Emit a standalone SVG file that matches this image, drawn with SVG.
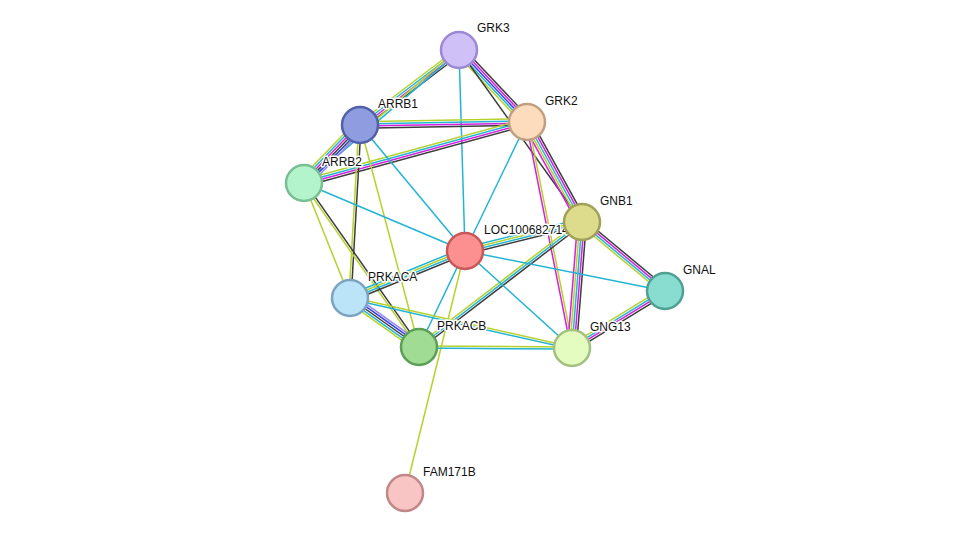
<svg xmlns="http://www.w3.org/2000/svg" width="976" height="539" viewBox="0 0 976 539">
<style>
line{stroke-width:1.5;fill:none}
.c{stroke:#22b4d4}.m{stroke:#d41fe0}.g{stroke:#b6d12c}.k{stroke:#3c3c3c}.b{stroke:#3a3af0}.p{stroke:#8f86f0}
circle{stroke-width:2.5}
text{font-family:"Liberation Sans",Arial,sans-serif;font-size:12px;fill:#111;stroke:#fff;stroke-width:3;paint-order:stroke;stroke-linejoin:round}
</style>
<rect width="976" height="539" fill="#fff"/>
<g id="edges">
<!-- GRK3-GRK2 -->
<line class="k" x1="459" y1="50" x2="527" y2="122" transform="translate(3.2,-3.02)"/>
<line class="m" x1="459" y1="50" x2="527" y2="122" transform="translate(1.6,-1.51)"/>
<line class="b" x1="459" y1="50" x2="527" y2="122"/>
<line class="c" x1="459" y1="50" x2="527" y2="122" transform="translate(-1.6,1.51)"/>
<line class="g" x1="459" y1="50" x2="527" y2="122" transform="translate(-3.2,3.02)"/>
<!-- GRK3-ARRB1 -->
<line class="k" x1="459" y1="50" x2="360" y2="125" transform="translate(2.66,3.52)"/>
<line class="m" x1="459" y1="50" x2="360" y2="125" transform="translate(1.33,1.76)"/>
<line class="c" x1="459" y1="50" x2="360" y2="125"/>
<line class="g" x1="459" y1="50" x2="360" y2="125" transform="translate(-1.33,-1.76)"/>
<!-- GRK3-ARRB2 -->
<line class="c" x1="459" y1="50" x2="304" y2="183" transform="translate(0.72,0.84)"/>
<line class="g" x1="459" y1="50" x2="304" y2="183" transform="translate(-0.72,-0.84)"/>
<line class="c" x1="459" y1="50" x2="465" y2="251"/>
<line class="k" x1="459" y1="50" x2="582" y2="222"/>
<!-- ARRB1-GRK2 -->
<line class="g" x1="360" y1="125" x2="527" y2="122" transform="translate(-0.06,-3.3)"/>
<line class="c" x1="360" y1="125" x2="527" y2="122" transform="translate(-0.02,-1.1)"/>
<line class="m" x1="360" y1="125" x2="527" y2="122" transform="translate(0.02,1.1)"/>
<line class="k" x1="360" y1="125" x2="527" y2="122" transform="translate(0.06,3.3)"/>
<!-- ARRB2-GRK2 -->
<line class="g" x1="304" y1="183" x2="527" y2="122" transform="translate(-0.87,-3.18)"/>
<line class="c" x1="304" y1="183" x2="527" y2="122" transform="translate(-0.29,-1.06)"/>
<line class="m" x1="304" y1="183" x2="527" y2="122" transform="translate(0.29,1.06)"/>
<line class="k" x1="304" y1="183" x2="527" y2="122" transform="translate(0.87,3.18)"/>
<!-- ARRB1-ARRB2 -->
<line class="p" x1="360" y1="125" x2="304" y2="183" transform="translate(3.95,3.8)"/>
<line class="b" x1="360" y1="125" x2="304" y2="183" transform="translate(2.37,2.28)"/>
<line class="k" x1="360" y1="125" x2="304" y2="183" transform="translate(0.79,0.76)"/>
<line class="m" x1="360" y1="125" x2="304" y2="183" transform="translate(-0.79,-0.76)"/>
<line class="c" x1="360" y1="125" x2="304" y2="183" transform="translate(-2.37,-2.28)"/>
<line class="g" x1="360" y1="125" x2="304" y2="183" transform="translate(-3.95,-3.8)"/>
<line class="c" x1="360" y1="125" x2="465" y2="251"/>
<line class="k" x1="360" y1="125" x2="350" y2="298" transform="translate(1.1,0.06)"/>
<line class="g" x1="360" y1="125" x2="350" y2="298" transform="translate(-1.1,-0.06)"/>
<line class="g" x1="360" y1="125" x2="419" y2="347"/>
<line class="c" x1="304" y1="183" x2="465" y2="251"/>
<line class="k" x1="304" y1="183" x2="419" y2="347" transform="translate(0.9,-0.63)"/>
<line class="g" x1="304" y1="183" x2="419" y2="347" transform="translate(-0.9,0.63)"/>
<line class="g" x1="304" y1="183" x2="350" y2="298"/>
<!-- GRK2-GNB1 -->
<line class="k" x1="527" y1="122" x2="582" y2="222" transform="translate(3.86,-2.12)"/>
<line class="m" x1="527" y1="122" x2="582" y2="222" transform="translate(1.93,-1.06)"/>
<line class="c" x1="527" y1="122" x2="582" y2="222"/>
<line class="g" x1="527" y1="122" x2="582" y2="222" transform="translate(-1.93,1.06)"/>
<line class="m" x1="527" y1="122" x2="582" y2="222" transform="translate(-3.86,2.12)"/>
<line class="g" x1="527" y1="122" x2="572" y2="348" transform="translate(1.08,-0.22)"/>
<line class="m" x1="527" y1="122" x2="572" y2="348" transform="translate(-1.08,0.22)"/>
<line class="c" x1="527" y1="122" x2="465" y2="251"/>
<!-- LOC-GNB1 -->
<line class="k" x1="465" y1="251" x2="582" y2="222" transform="translate(0.8,3.21)"/>
<line class="c" x1="465" y1="251" x2="582" y2="222" transform="translate(0.27,1.07)"/>
<line class="g" x1="465" y1="251" x2="582" y2="222" transform="translate(-0.27,-1.07)"/>
<line class="c" x1="465" y1="251" x2="582" y2="222" transform="translate(-0.8,-3.21)"/>
<!-- GNB1-GNAL -->
<line class="k" x1="582" y1="222" x2="665" y2="291" transform="translate(2.12,-2.54)"/>
<line class="m" x1="582" y1="222" x2="665" y2="291" transform="translate(0.71,-0.85)"/>
<line class="c" x1="582" y1="222" x2="665" y2="291" transform="translate(-0.71,0.85)"/>
<line class="g" x1="582" y1="222" x2="665" y2="291" transform="translate(-2.12,2.54)"/>
<!-- GNB1-GNG13 -->
<line class="k" x1="582" y1="222" x2="572" y2="348" transform="translate(4.38,0.34)"/>
<line class="m" x1="582" y1="222" x2="572" y2="348" transform="translate(2.19,0.17)"/>
<line class="c" x1="582" y1="222" x2="572" y2="348"/>
<line class="g" x1="582" y1="222" x2="572" y2="348" transform="translate(-2.19,-0.17)"/>
<line class="m" x1="582" y1="222" x2="572" y2="348" transform="translate(-4.38,-0.34)"/>
<!-- PRKACB-GNB1 -->
<line class="k" x1="419" y1="347" x2="582" y2="222" transform="translate(1.34,1.75)"/>
<line class="c" x1="419" y1="347" x2="582" y2="222"/>
<line class="g" x1="419" y1="347" x2="582" y2="222" transform="translate(-1.34,-1.75)"/>
<!-- PRKACA-LOC -->
<line class="k" x1="350" y1="298" x2="465" y2="251" transform="translate(1.25,3.06)"/>
<line class="c" x1="350" y1="298" x2="465" y2="251" transform="translate(0.42,1.02)"/>
<line class="g" x1="350" y1="298" x2="465" y2="251" transform="translate(-0.42,-1.02)"/>
<line class="c" x1="350" y1="298" x2="465" y2="251" transform="translate(-1.25,-3.06)"/>
<line class="c" x1="465" y1="251" x2="419" y2="347"/>
<line class="c" x1="465" y1="251" x2="665" y2="291"/>
<line class="c" x1="465" y1="251" x2="572" y2="348"/>
<line class="g" x1="465" y1="251" x2="405" y2="493"/>
<!-- PRKACA-PRKACB -->
<line class="p" x1="350" y1="298" x2="419" y2="347" transform="translate(2.54,-3.58)"/>
<line class="b" x1="350" y1="298" x2="419" y2="347" transform="translate(1.27,-1.79)"/>
<line class="k" x1="350" y1="298" x2="419" y2="347"/>
<line class="c" x1="350" y1="298" x2="419" y2="347" transform="translate(-1.27,1.79)"/>
<line class="g" x1="350" y1="298" x2="419" y2="347" transform="translate(-2.54,3.58)"/>
<line class="g" x1="350" y1="298" x2="572" y2="348" transform="translate(0.24,-1.07)"/>
<line class="c" x1="350" y1="298" x2="572" y2="348" transform="translate(-0.24,1.07)"/>
<line class="g" x1="419" y1="347" x2="572" y2="348" transform="translate(0,-1.1)"/>
<line class="c" x1="419" y1="347" x2="572" y2="348" transform="translate(0,1.1)"/>
<!-- GNAL-GNG13 -->
<line class="k" x1="665" y1="291" x2="572" y2="348" transform="translate(1.73,2.82)"/>
<line class="m" x1="665" y1="291" x2="572" y2="348" transform="translate(0.58,0.94)"/>
<line class="c" x1="665" y1="291" x2="572" y2="348" transform="translate(-0.58,-0.94)"/>
<line class="g" x1="665" y1="291" x2="572" y2="348" transform="translate(-1.73,-2.82)"/>
</g>
<g id="FAM171B"><circle cx="405" cy="493" r="18" fill="#f8c4c4" stroke="#c08888"/><text x="423" y="476">FAM171B</text></g>
<g id="LOC100682714"><circle cx="465" cy="251" r="18" fill="#fc9090" stroke="#c85858"/><text x="484" y="234">LOC100682714</text></g>
<g id="GRK3"><circle cx="459" cy="50" r="18" fill="#cfc0f8" stroke="#9c88d4"/><text x="477" y="32">GRK3</text></g>
<g id="GRK2"><circle cx="527" cy="122" r="18" fill="#fcdcbc" stroke="#c0a080"/><text x="545" y="105">GRK2</text></g>
<g id="ARRB1"><circle cx="360" cy="125" r="18" fill="#8f9ce0" stroke="#5260a8"/><text x="378" y="108">ARRB1</text></g>
<g id="ARRB2"><circle cx="304" cy="183" r="18" fill="#b4f4cc" stroke="#78c094"/><text x="322" y="166">ARRB2</text></g>
<g id="GNB1"><circle cx="582" cy="222" r="18" fill="#dcdc8c" stroke="#a0a058"/><text x="600" y="205">GNB1</text></g>
<g id="GNAL"><circle cx="665" cy="291" r="18" fill="#88dcd0" stroke="#50a094"/><text x="683" y="274">GNAL</text></g>
<g id="PRKACA"><circle cx="350" cy="298" r="18" fill="#bce4f8" stroke="#7ca4c0"/><text x="368" y="281">PRKACA</text></g>
<g id="PRKACB"><circle cx="419" cy="347" r="18" fill="#a0dc94" stroke="#5ca058"/><text x="437" y="330">PRKACB</text></g>
<g id="GNG13"><circle cx="572" cy="348" r="18" fill="#e4fcc0" stroke="#a4c080"/><text x="590" y="331">GNG13</text></g>
</svg>
